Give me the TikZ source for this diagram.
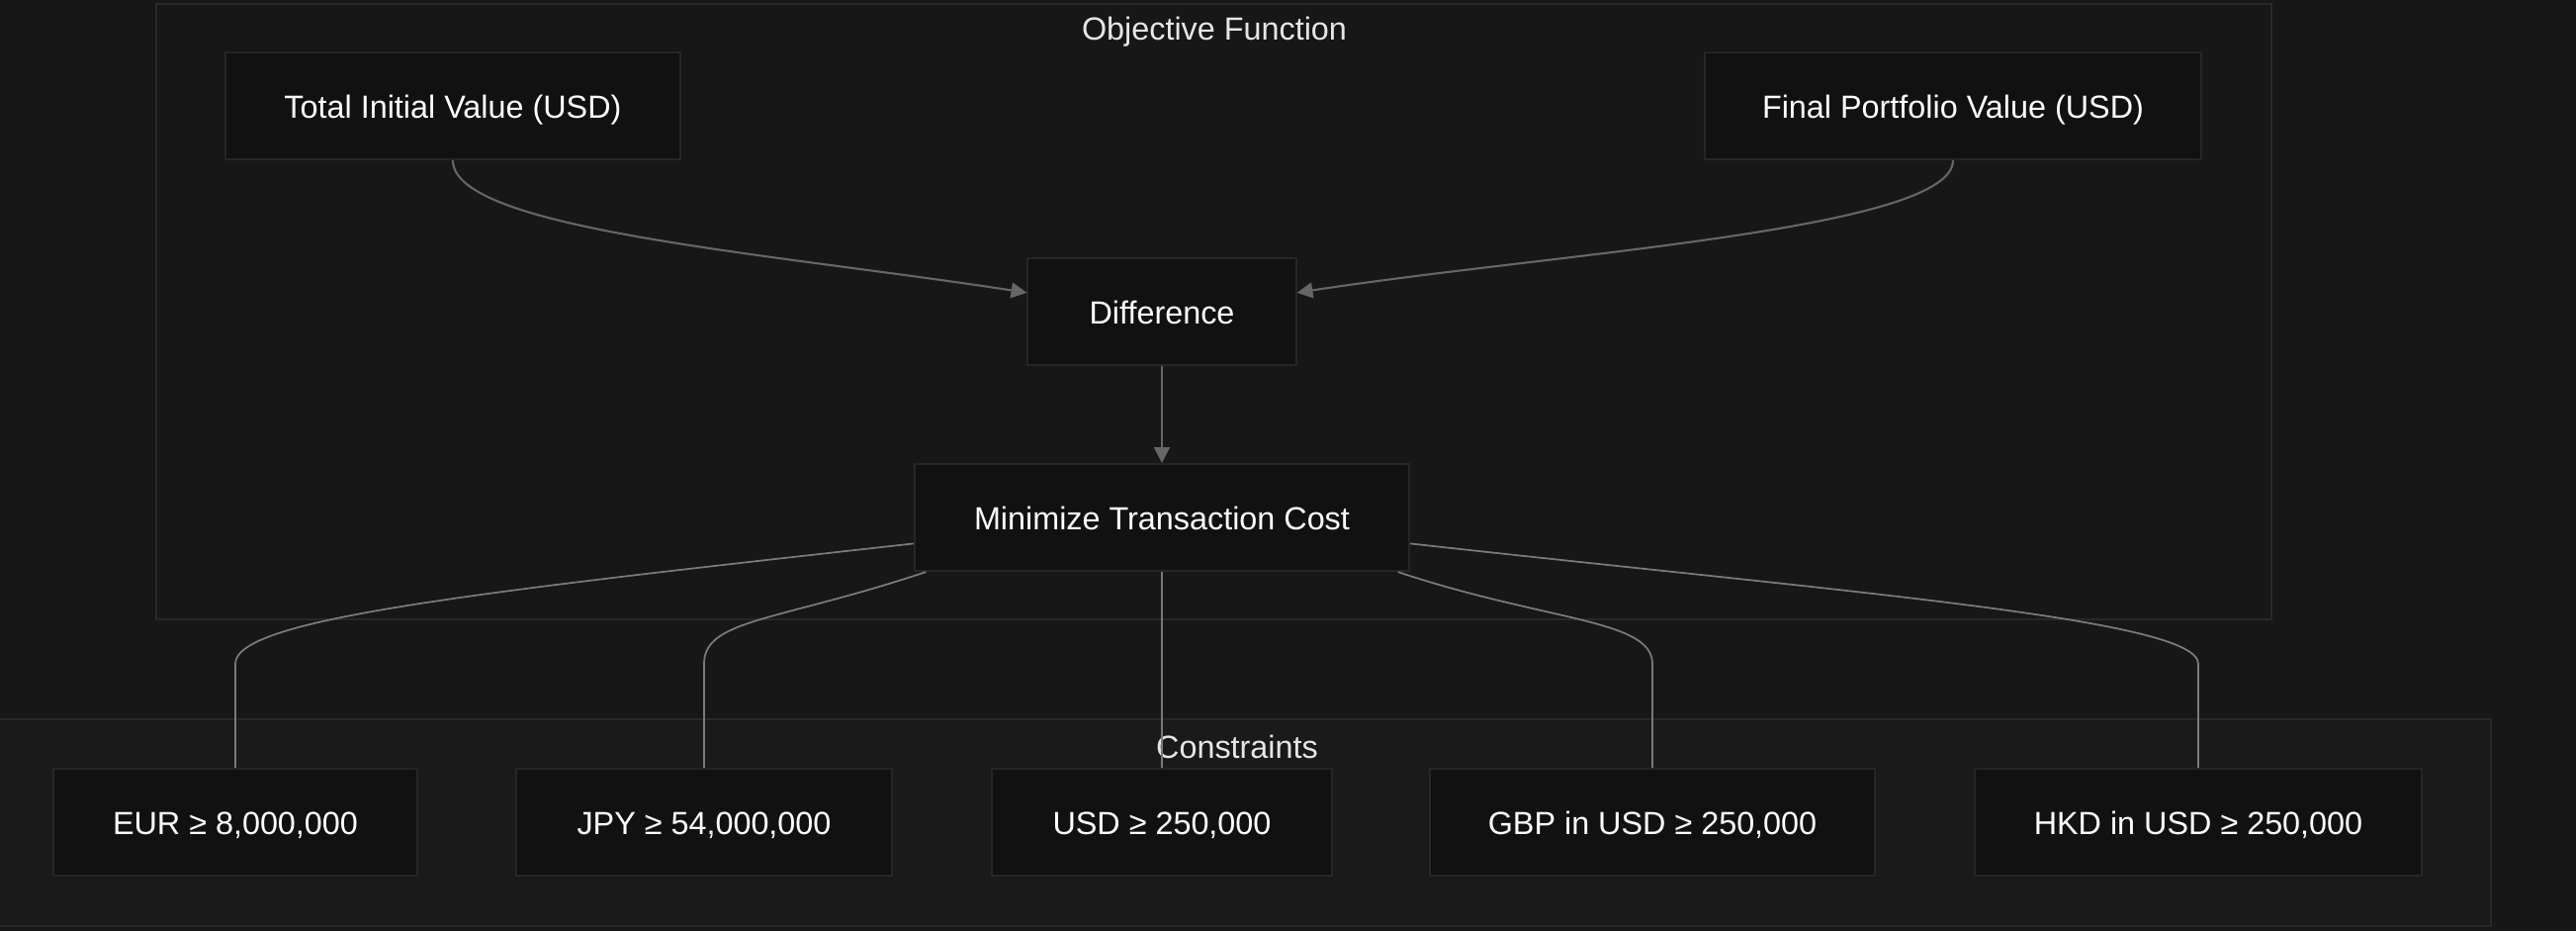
\documentclass[tikz,border=0pt]{standalone}
\usepackage{fontspec}
\setmainfont{Liberation Sans}
\usetikzlibrary{arrows.meta, positioning}
\definecolor{bgcol}{HTML}{171717}
\definecolor{objfill}{HTML}{171717}
\definecolor{confill}{HTML}{1A1A1A}
\definecolor{clusterline}{HTML}{282828}
\definecolor{nodefill}{HTML}{111111}
\definecolor{nodeline}{HTML}{262626}
\definecolor{edgecol}{HTML}{666666}
\definecolor{linkcol}{HTML}{7A7A7A}
\definecolor{titlecol}{HTML}{E6E6E6}

\begin{document}
\begin{tikzpicture}[x=0.01cm,y=-0.01cm,>={Triangle[length=4.5pt,width=4.5pt]},
    every node/.style={font=\fontsize{9.2}{11}\selectfont,text=white},
    box/.style={draw=nodeline,fill=nodefill,line width=0.6pt,minimum height=1.08cm,minimum width=#1,inner sep=0pt,text height=0.7em,text depth=0pt},
    title/.style={text=titlecol},
    edge/.style={draw=edgecol,line width=0.6pt},
    link/.style={draw=linkcol,line width=0.5pt}]
    \fill[bgcol] (0,0) rectangle (2605,941);
    \useasboundingbox (0,0) rectangle (2605,941);
    % clusters
    \filldraw[fill=objfill,draw=clusterline,line width=0.6pt] (158,4) rectangle (2297,626);
    \filldraw[fill=confill,draw=clusterline,line width=0.6pt] (-10,727) rectangle (2519,936);
    \node[title] (objtitle) at (1228,32) {Objective Function};
    \node[title] (contitle) at (1251,755) {Constraints};
    % objective
    \node[box=4.59cm] (tiv) at (458,107) {Total Initial Value (USD)};
    \node[box=5.02cm] (fpv) at (1975,107) {Final Portfolio Value (USD)};
    \node[box=2.71cm] (diff) at (1175,315) {Difference};
    \node[box=5.00cm] (mtc) at (1175,523) {Minimize Transaction Cost};
    % constraints
    \node[box=3.67cm] (eur) at (238,831) {EUR ≥ 8,000,000};
    \node[box=3.80cm] (jpy) at (712,831) {JPY ≥ 54,000,000};
    \node[box=3.44cm] (usd) at (1175,831) {USD ≥ 250,000};
    \node[box=4.49cm] (gbp) at (1671,831) {GBP in USD ≥ 250,000};
    \node[box=4.52cm] (hkd) at (2223,831) {HKD in USD ≥ 250,000};
    % edges
    \draw[edge,->] (tiv.south) .. controls +(0,70) and +(-260,-40) .. (diff.172);
    \draw[edge,->] (fpv.south) .. controls +(0,70) and +(260,-40) .. (diff.8);
    \draw[edge,->] (diff) -- (mtc);
    \draw[link] (mtc.186) .. controls +(-450,50) and +(0,-45) .. ([yshift=1.05cm]eur.north) -- (eur.north);
    \draw[link] (mtc.193) .. controls +(-150,50) and +(0,-45) .. ([yshift=1.05cm]jpy.north) -- (jpy.north);
    \draw[link] (mtc) -- (usd);
    \draw[link] (mtc.-13) .. controls +(150,50) and +(0,-45) .. ([yshift=1.05cm]gbp.north) -- (gbp.north);
    \draw[link] (mtc.-6) .. controls +(450,50) and +(0,-45) .. ([yshift=1.05cm]hkd.north) -- (hkd.north);
\end{tikzpicture}
\end{document}
